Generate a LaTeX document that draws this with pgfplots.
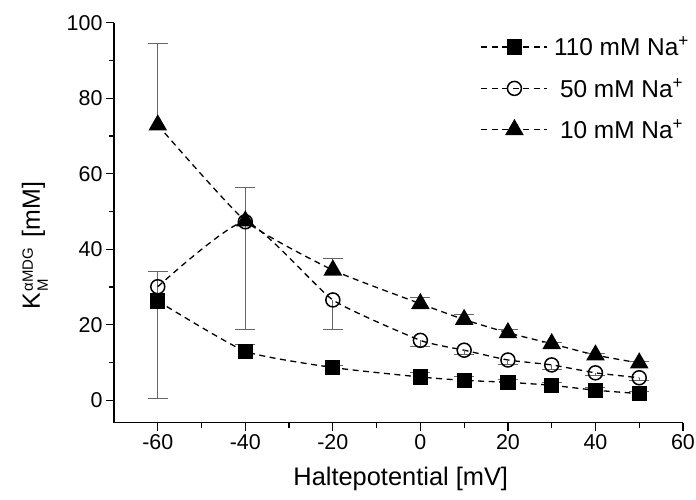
\documentclass[border=0pt]{standalone}
\usepackage{pgfplots}
\pgfplotsset{compat=1.18}
\usepackage{pgfplotstable}
\usepackage{fontspec}
\setmainfont{Liberation Sans}
\definecolor{errgray}{gray}{0.4}

\pgfplotstableread{
x y e
-60 26.3 7.7
-40 13.0 1.8
-20 8.7 0.6
0 6.2 1.2
10 5.3 0.9
20 4.8 0.7
30 4.0 0.8
40 2.7 0.7
50 1.8 0.5
}\dataA
\pgfplotstableread{
x y e
-60 30.1 29.7
-40 47.3 28.4
-20 26.6 7.7
0 15.9 1.5
10 13.3 1.2
20 10.7 1.1
30 9.4 1.1
40 7.3 0.7
50 6.0 0.7
}\dataB
\pgfplotstableread{
x y e
-60 72.9 21.5
-40 47.5 9.0
-20 34.5 3.0
0 25.6 1.7
10 21.4 1.3
20 17.9 0.8
30 15.0 0.4
40 12.0 0.3
50 9.9 0.3
}\dataC

\newcommand{\smallfs}{\fontsize{15}{15}\selectfont}
\begin{document}
\begin{tikzpicture}
\useasboundingbox (-114bp,-77.3bp) rectangle (582bp,422.7bp);
\begin{axis}[
  scale only axis,
  width=569bp, height=400bp,
  xmin=-70, xmax=60, ymin=-5.9, ymax=100,
  axis lines*=left,
  axis line style={line width=1.3bp},
  xtick={-60,-40,...,60},
  ytick={0,20,...,100},
  minor x tick num=1,
  minor y tick num=1,
  tick align=outside,
  major tick length=8bp,
  minor tick length=5bp,
  every tick/.style={black, line width=1.2bp},
  /pgf/number format/assume math mode=true,
  tick label style={font=\fontsize{21.5}{24}\selectfont},
  xlabel={Haltepotential [mV]},
  ylabel={K\hspace{1bp}\rlap{\raisebox{-8bp}{\smallfs M}}\raisebox{7bp}{\smallfs αMDG}\hspace{4bp} [mM]},
  xlabel style={at={(axis description cs:0.504,-0.141)}, anchor=center, font=\fontsize{25.5}{28}\selectfont},
  ylabel style={at={(axis description cs:-0.139,0.443)}, anchor=center, rotate=0, font=\fontsize{25}{28}\selectfont},
  legend style={draw=none, fill=none, at={(axis description cs:0.639,0.975)}, anchor=north west,
    font=\fontsize{24.5}{28}\selectfont, row sep=17bp, legend cell align=left},
  legend image code/.code={\draw[mark repeat=2,mark phase=2,#1] plot coordinates {(0bp,0bp) (33bp,0bp) (66bp,0bp)};},
  error bars/error bar style={errgray, line width=1bp, solid},
  error bars/error mark options={rotate=90, mark size=10bp, errgray, line width=1bp, solid},
  clip=false,
]
\addplot[black, line width=1.3bp, dash pattern=on 6bp off 4.5bp, smooth, tension=0.3,
  mark=square*, mark size=7bp, mark options={solid, fill=black, black},
  error bars/.cd, y dir=plus, y explicit]
  table[x=x, y=y, y error=e] {\dataA};
\addlegendentry{\hspace{4bp}110 mM Na\textsuperscript{+}}
\addplot[black, line width=1.3bp, dash pattern=on 6bp off 4.5bp, smooth, tension=0.3,
  mark=o, mark size=7bp, mark options={solid, fill=white, black, line width=1.5bp},
  error bars/.cd, y dir=minus, y explicit]
  table[x=x, y=y, y error=e] {\dataB};
\addlegendentry{\hspace{10bp}50 mM Na\textsuperscript{+}}
\addplot[black, line width=1.3bp, dash pattern=on 6bp off 4.5bp, smooth, tension=0.3,
  mark=triangle*, mark size=9.5bp, mark options={solid, fill=black, black},
  error bars/.cd, y dir=plus, y explicit]
  table[x=x, y=y, y error=e] {\dataC};
\addlegendentry{\hspace{10bp}10 mM Na\textsuperscript{+}}
\end{axis}
\end{tikzpicture}
\end{document}
